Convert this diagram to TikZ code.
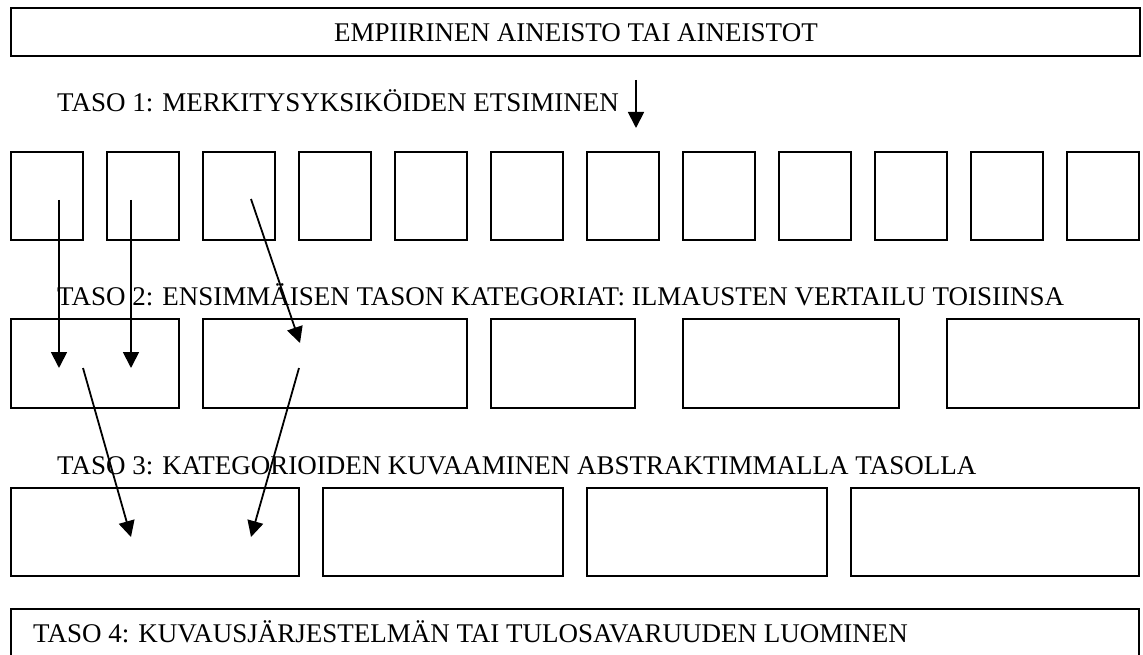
\documentclass[tikz,border=0pt]{standalone}
\usepackage{fontspec}
\setmainfont{Liberation Serif}
\usetikzlibrary{arrows.meta}
\begin{document}
\begin{tikzpicture}[x=1pt,y=-1pt,
  box/.style={draw=black,line width=1.8pt,inner sep=0pt,outer sep=0pt},
  label/.style={inner sep=0pt,anchor=base west,font=\fontsize{27}{32}\selectfont},
  flow/.style={line width=1.8pt,-{Triangle[length=16pt,width=16pt]}}]
\useasboundingbox (0,0) rectangle (1143,655);
\clip (0,0) rectangle (1143,655);
\fill[white] (0,0) rectangle (1143,655);

% source data
\node[box,minimum width=1129pt,minimum height=48pt] (src) at (575.5,32) {};
\node[inner sep=0pt,anchor=base,font=\fontsize{27}{32}\selectfont] (srct) at (576,42) {EMPIIRINEN AINEISTO TAI AINEISTOT};

% level 1: meaning units
\node[label] (l1) at (57,112) {TASO 1: MERKITYSYKSIKÖIDEN ETSIMINEN};
\coordinate (d0) at (636,80);
\coordinate (d1) at (636,128);
\draw[flow] (d0) -- (d1);
\foreach \i in {0,...,11}{
  \node[box,minimum width=72pt,minimum height=88pt] (u\i) at (47+96*\i,196) {};
}

% level 2: first-level categories
\node[label] (l2) at (57,305) {TASO 2: ENSIMMÄISEN TASON KATEGORIAT: ILMAUSTEN VERTAILU TOISIINSA};
\node[box,minimum width=168pt,minimum height=89pt] (c1) at (95,363.5) {};
\node[box,minimum width=264pt,minimum height=89pt] (c2) at (335,363.5) {};
\node[box,minimum width=144pt,minimum height=89pt] (c3) at (563,363.5) {};
\node[box,minimum width=216pt,minimum height=89pt] (c4) at (791,363.5) {};
\node[box,minimum width=192pt,minimum height=89pt] (c5) at (1043,363.5) {};

% level 3: abstracted categories
\node[label] (l3) at (57,474) {TASO 3: KATEGORIOIDEN KUVAAMINEN ABSTRAKTIMMALLA TASOLLA};
\node[box,minimum width=288pt,minimum height=88pt] (k1) at (155,532) {};
\node[box,minimum width=240pt,minimum height=88pt] (k2) at (443,532) {};
\node[box,minimum width=240pt,minimum height=88pt] (k3) at (707,532) {};
\node[box,minimum width=288pt,minimum height=88pt] (k4) at (995,532) {};

% level 4: classification system
\node[box,minimum width=1128pt,minimum height=80pt] (sys) at (575,649) {};
\node[label] (l4) at (33,642) {TASO 4: KUVAUSJÄRJESTELMÄN TAI TULOSAVARUUDEN LUOMINEN};

% grouping arrows
\coordinate (a1s) at (59,200);  \coordinate (a1e) at (59,368);
\coordinate (a2s) at (131,200); \coordinate (a2e) at (131,368);
\coordinate (a3s) at (251,199); \coordinate (a3e) at (300,343);
\coordinate (b1s) at (83,368);  \coordinate (b1e) at (131,537);
\coordinate (b2s) at (299,368); \coordinate (b2e) at (251,537);
\draw[flow] (a1s) -- (a1e);
\draw[flow] (a2s) -- (a2e);
\draw[flow] (a3s) -- (a3e);
\draw[flow] (b1s) -- (b1e);
\draw[flow] (b2s) -- (b2e);
\end{tikzpicture}
\end{document}
